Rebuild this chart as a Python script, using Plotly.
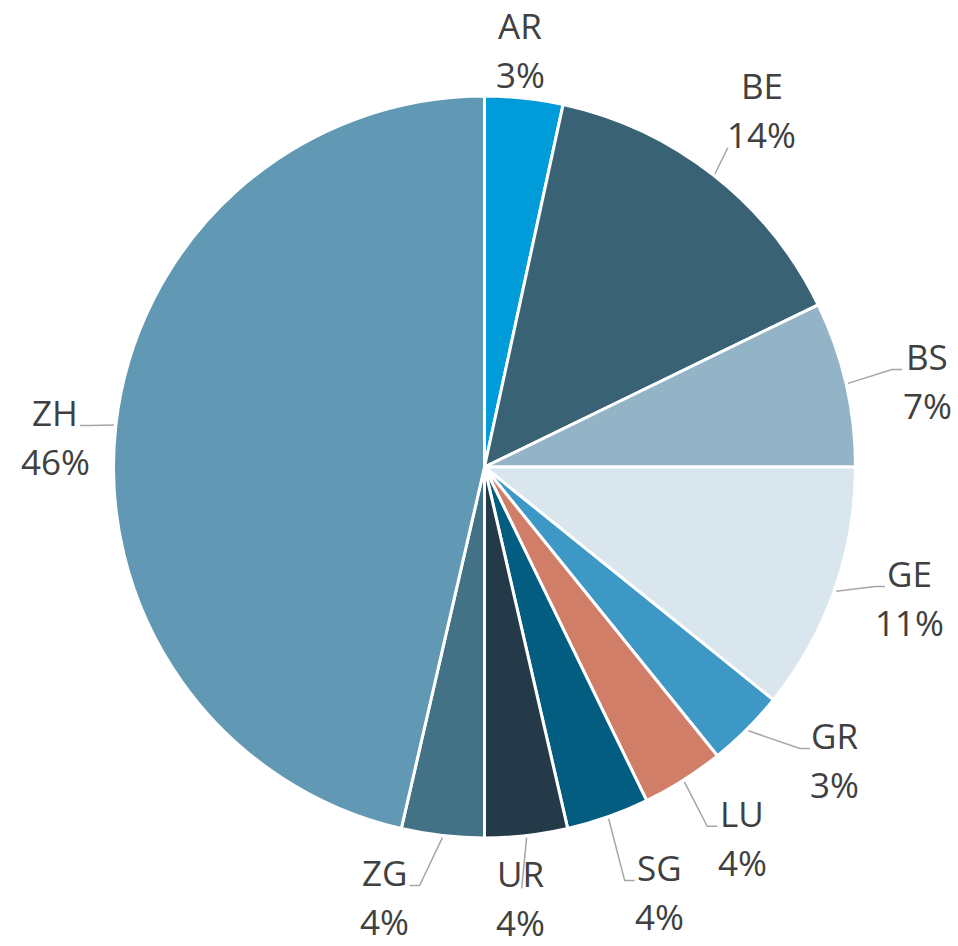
import math
import plotly.graph_objects as go

labels = ["AR", "BE", "BS", "GE", "GR", "LU", "SG", "UR", "ZG", "ZH"]
values = [3.4, 14.4, 7.2, 10.8, 3.4, 3.6, 3.6, 3.6, 3.6, 46.4]
colors = ["#009BD9", "#3A6275", "#92B4C6", "#D9E6ED", "#3D98C6",
          "#D07E68", "#035D80", "#243A48", "#437287", "#6198B3"]

# label layout (radius of label block centre in px, angle nudge in degrees, leader style)
label_r = [418.5, 452, 450.8, 445.2, 456.8, 451.6, 459.8, 432.5, 441.5, 430.5]
label_da = [-1.25, -0.3, 1.96, -2.33, -5.1, -2.4, -2.96, 1.68, 6.6, -2.5]
leader = ["none", "corner", "elbow", "elbow", "elbow", "elbow", "elbow", "drop", "elbow", "elbow"]

W, H = 958, 946
CX, CY, R = 484.5, 467.0, 371.0
FONT = dict(family="Open Sans", size=35, color="#404040")
LINE = dict(color="#A6A6A6", width=1.5)


def px(x):
    return x / W


def py(y):
    return 1 - y / H


fig = go.Figure(go.Pie(
    labels=labels, values=values, sort=False, direction="clockwise", rotation=0,
    marker=dict(colors=colors, line=dict(color="white", width=3)),
    textinfo="none", hoverinfo="label+percent",
    domain=dict(x=[px(CX - R), px(CX + R)], y=[py(CY + R), py(CY - R)]),
    automargin=False, showlegend=False,
))

total = sum(values)
cum = 0.0
annotations, shapes = [], []
for i, (lab, v) in enumerate(zip(labels, values)):
    mid = 2 * math.pi * (cum + v / 2) / total
    cum += v
    a = mid + math.radians(label_da[i])
    lx = CX + label_r[i] * math.sin(a)
    ly = CY - label_r[i] * math.cos(a)
    pct = f"{round(100 * v / total)}%"
    for txt, yy in ((lab, ly - 24.5), (pct, ly + 24.5)):
        annotations.append(dict(text=txt, x=px(lx), y=py(yy), xref="paper", yref="paper",
                                xanchor="center", yanchor="middle", showarrow=False, font=FONT))
    sx = CX + 373 * math.sin(mid)
    sy = CY - 373 * math.cos(mid)
    style = leader[i]
    pts = None
    if style == "elbow":
        side = 1 if lx > CX else -1
        ex = lx - side * 25
        ey = ly - 24.5 + 13
        pts = [(sx, sy), (ex - side * 10, ey), (ex, ey)]
    elif style == "corner":
        pts = [(sx, sy), (lx - 34, ly + 24.5 + 13)]
    elif style == "drop":
        pts = [(sx, sy), (lx + 1, ly - 24.5 + 15)]
    if pts:
        path = "M " + " L ".join(f"{px(x):.5f},{py(y):.5f}" for x, y in pts)
        shapes.append(dict(type="path", path=path, xref="paper", yref="paper", line=LINE))

fig.update_layout(width=W, height=H, margin=dict(l=0, r=0, t=0, b=0),
                  paper_bgcolor="white", plot_bgcolor="white",
                  annotations=annotations, shapes=shapes)
fig.write_html("out.html", config={"displayModeBar": False},
               post_script="document.body.style.margin='0';")
